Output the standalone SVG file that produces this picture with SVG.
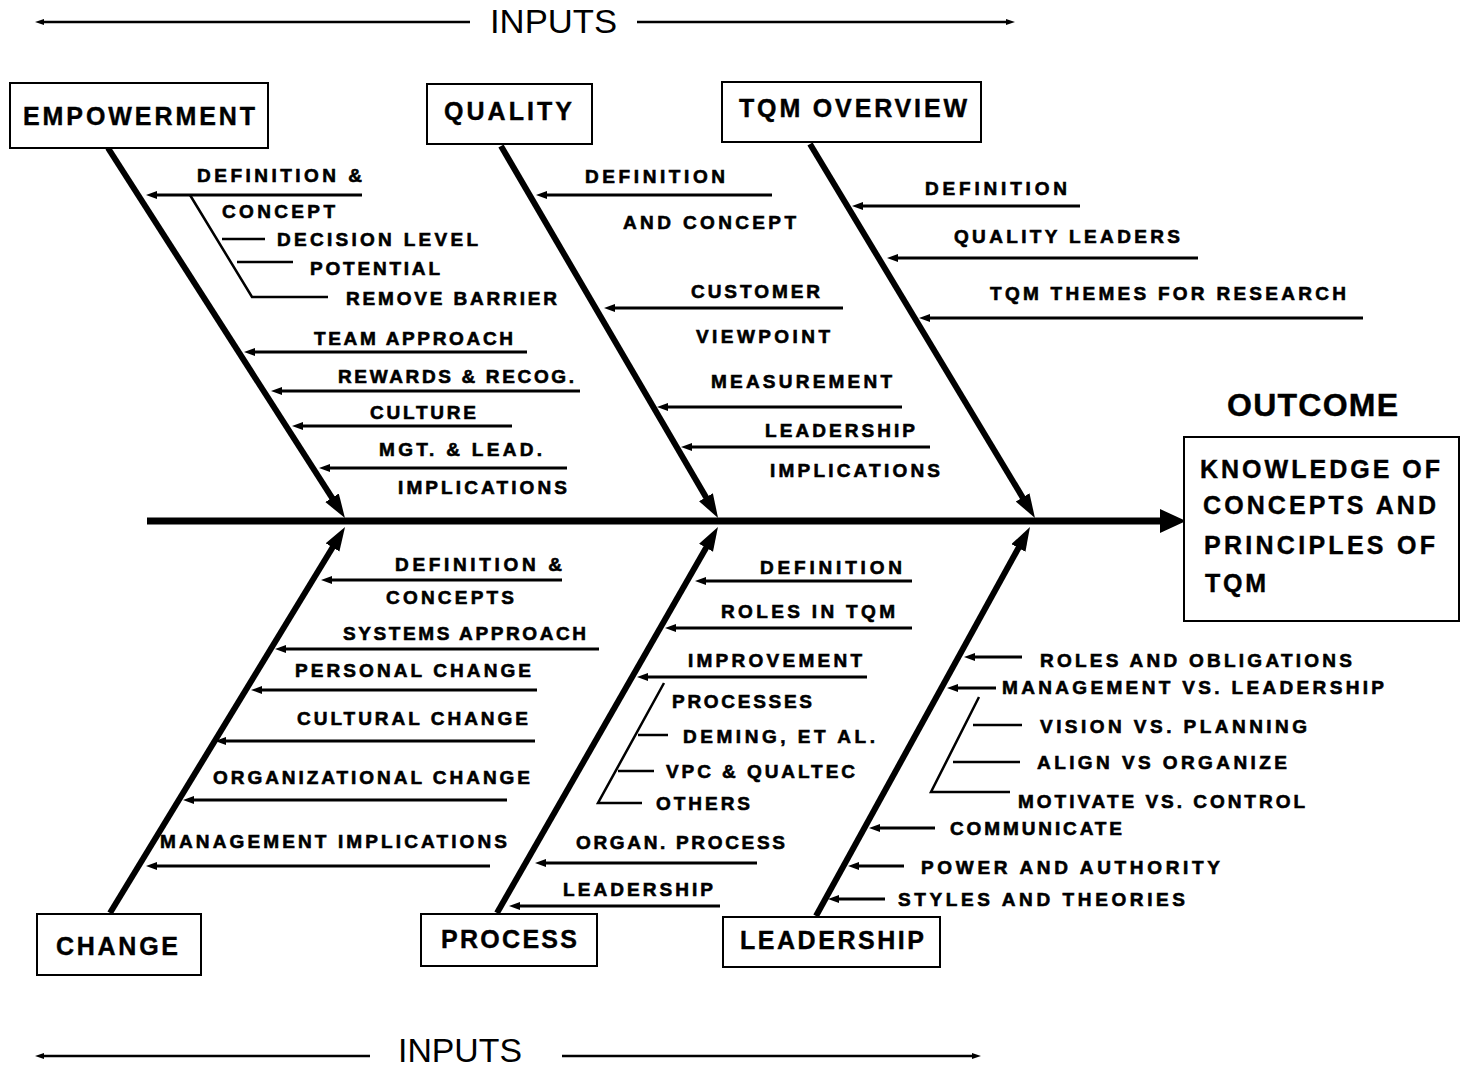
<svg xmlns="http://www.w3.org/2000/svg" width="1460" height="1069" viewBox="0 0 1460 1069">
  <style>
    .lbl { font-family: "Liberation Sans", Arial, sans-serif; font-weight: bold; font-size: 19px; fill: #000; stroke: #000; stroke-width: 0.6; }
    .box-t { font-family: "Liberation Sans", Arial, sans-serif; font-weight: bold; font-size: 25px; fill: #000; stroke: #000; stroke-width: 0.4; }
    .inp { font-family: "Liberation Sans", Arial, sans-serif; font-size: 33px; fill: #000; }
    .box { fill: #fff; stroke: #000; stroke-width: 2; }
    .rib { stroke: #000; stroke-width: 6; fill: none; }
    .sub { stroke: #000; stroke-width: 3; fill: none; marker-end: url(#small); }
    .twig { stroke: #000; stroke-width: 2.5; fill: none; }
    .inl { stroke: #000; stroke-width: 2.5; fill: none; }
  </style>
  <defs>
    <marker id="big" markerUnits="userSpaceOnUse" markerWidth="26" markerHeight="18" refX="12" refY="8" orient="auto">
      <path d="M0,0 L24,8 L0,16 z" fill="#000"/>
    </marker>
    <marker id="small" markerUnits="userSpaceOnUse" markerWidth="13" markerHeight="9" refX="4" refY="4" orient="auto">
      <path d="M0,0 L11,4 L0,8 z" fill="#000"/>
    </marker>
    <marker id="thin" markerUnits="userSpaceOnUse" markerWidth="10" markerHeight="8" refX="3" refY="3" orient="auto">
      <path d="M0,0 L9,3 L0,6 z" fill="#000"/>
    </marker>
  </defs>

  <rect width="1460" height="1069" fill="#fff"/>

  <!-- input banners -->
  <g id="inputs-top">
    <line class="inl" x1="470" y1="22" x2="41" y2="22" marker-end="url(#thin)"/>
    <line class="inl" x1="637" y1="22" x2="1009" y2="22" marker-end="url(#thin)"/>
    <text class="inp" x="490" y="33" textLength="127" lengthAdjust="spacingAndGlyphs">INPUTS</text>
  </g>
  <g id="inputs-bottom">
    <line class="inl" x1="370" y1="1056" x2="41" y2="1056" marker-end="url(#thin)"/>
    <line class="inl" x1="562" y1="1056" x2="975" y2="1056" marker-end="url(#thin)"/>
    <text class="inp" x="398" y="1062" textLength="124" lengthAdjust="spacingAndGlyphs">INPUTS</text>
  </g>

  <!-- spine, ribs and branch arrows -->
  <g id="connectors">
    <line x1="147" y1="521" x2="1162" y2="521" stroke="#000" stroke-width="7"/>
    <polygon points="1160,509 1186,521 1160,533" fill="#000"/>

    <line class="rib" x1="108" y1="148" x2="338.5" y2="507.9" marker-end="url(#big)"/>
    <line class="rib" x1="501" y1="146" x2="712" y2="507.6" marker-end="url(#big)"/>
    <line class="rib" x1="810" y1="144" x2="1028.8" y2="507.7" marker-end="url(#big)"/>
    <line class="rib" x1="110" y1="913" x2="338.8" y2="537.2" marker-end="url(#big)"/>
    <line class="rib" x1="497" y1="913" x2="712" y2="537.4" marker-end="url(#big)"/>
    <line class="rib" x1="816" y1="916" x2="1024.2" y2="537.5" marker-end="url(#big)"/>

    <!-- empowerment branches -->
    <line class="sub" x1="362" y1="195" x2="153" y2="195"/>
    <line class="sub" x1="527" y1="352" x2="251" y2="352"/>
    <line class="sub" x1="580" y1="391" x2="278" y2="391"/>
    <line class="sub" x1="512" y1="426" x2="299" y2="426"/>
    <line class="sub" x1="567" y1="468" x2="326" y2="468"/>
    <polyline class="twig" points="190,195 252,297 328,297"/>
    <line class="twig" x1="222" y1="239" x2="265" y2="239"/>
    <line class="twig" x1="237" y1="262" x2="293" y2="262"/>

    <!-- quality branches -->
    <line class="sub" x1="772" y1="195" x2="543" y2="195"/>
    <line class="sub" x1="843" y1="308" x2="611" y2="308"/>
    <line class="sub" x1="902" y1="407" x2="664" y2="407"/>
    <line class="sub" x1="930" y1="447" x2="688" y2="447"/>

    <!-- tqm overview branches -->
    <line class="sub" x1="1080" y1="206" x2="859" y2="206"/>
    <line class="sub" x1="1198" y1="258" x2="894" y2="258"/>
    <line class="sub" x1="1363" y1="318" x2="926" y2="318"/>

    <!-- change branches -->
    <line class="sub" x1="562" y1="580" x2="328" y2="580"/>
    <line class="sub" x1="599" y1="649" x2="282" y2="649"/>
    <line class="sub" x1="537" y1="690" x2="258" y2="690"/>
    <line class="sub" x1="535" y1="741" x2="222" y2="741"/>
    <line class="sub" x1="507" y1="800" x2="190" y2="800"/>
    <line class="sub" x1="490" y1="866" x2="153" y2="866"/>

    <!-- process branches -->
    <line class="sub" x1="912" y1="581" x2="702" y2="581"/>
    <line class="sub" x1="912" y1="628" x2="672" y2="628"/>
    <line class="sub" x1="867" y1="677" x2="644" y2="677"/>
    <line class="sub" x1="757" y1="863" x2="542" y2="863"/>
    <line class="sub" x1="720" y1="906" x2="516" y2="906"/>
    <polyline class="twig" points="664,683 598,803 642,803"/>
    <line class="twig" x1="638" y1="735" x2="668" y2="735"/>
    <line class="twig" x1="618" y1="771" x2="654" y2="771"/>

    <!-- leadership branches -->
    <line class="sub" x1="1022" y1="657" x2="971" y2="657"/>
    <line class="sub" x1="996" y1="688" x2="954" y2="688"/>
    <line class="sub" x1="935" y1="828" x2="876" y2="828"/>
    <line class="sub" x1="904" y1="866" x2="855" y2="866"/>
    <line class="sub" x1="885" y1="899" x2="835" y2="899"/>
    <polyline class="twig" points="979,697 931,792 1010,792"/>
    <line class="twig" x1="973" y1="725" x2="1022" y2="725"/>
    <line class="twig" x1="953" y1="762" x2="1020" y2="762"/>
  </g>

  <!-- category boxes -->
  <g id="empowerment">
    <rect class="box" x="10" y="83" width="258" height="65"/>
    <text class="box-t" x="23" y="125" textLength="232" lengthAdjust="spacing">EMPOWERMENT</text>
    <text class="lbl" x="197" y="182" textLength="165" lengthAdjust="spacing">DEFINITION &amp;</text>
    <text class="lbl" x="222" y="218" textLength="113" lengthAdjust="spacing">CONCEPT</text>
    <text class="lbl" x="277" y="246" textLength="201" lengthAdjust="spacing">DECISION LEVEL</text>
    <text class="lbl" x="310" y="275" textLength="130" lengthAdjust="spacing">POTENTIAL</text>
    <text class="lbl" x="346" y="305" textLength="211" lengthAdjust="spacing">REMOVE BARRIER</text>
    <text class="lbl" x="314" y="345" textLength="199" lengthAdjust="spacing">TEAM APPROACH</text>
    <text class="lbl" x="338" y="383" textLength="236" lengthAdjust="spacing">REWARDS &amp; RECOG.</text>
    <text class="lbl" x="370" y="419" textLength="106" lengthAdjust="spacing">CULTURE</text>
    <text class="lbl" x="379" y="456" textLength="163" lengthAdjust="spacing">MGT. &amp; LEAD.</text>
    <text class="lbl" x="398" y="494" textLength="169" lengthAdjust="spacing">IMPLICATIONS</text>
  </g>

  <g id="quality">
    <rect class="box" x="427" y="84" width="165" height="60"/>
    <text class="box-t" x="444" y="120" textLength="128" lengthAdjust="spacing">QUALITY</text>
    <text class="lbl" x="585" y="183" textLength="140" lengthAdjust="spacing">DEFINITION</text>
    <text class="lbl" x="623" y="229" textLength="173" lengthAdjust="spacing">AND CONCEPT</text>
    <text class="lbl" x="691" y="298" textLength="129" lengthAdjust="spacing">CUSTOMER</text>
    <text class="lbl" x="696" y="343" textLength="134" lengthAdjust="spacing">VIEWPOINT</text>
    <text class="lbl" x="711" y="388" textLength="181" lengthAdjust="spacing">MEASUREMENT</text>
    <text class="lbl" x="765" y="437" textLength="150" lengthAdjust="spacing">LEADERSHIP</text>
    <text class="lbl" x="770" y="477" textLength="170" lengthAdjust="spacing">IMPLICATIONS</text>
  </g>

  <g id="tqm-overview">
    <rect class="box" x="722" y="82" width="259" height="60"/>
    <text class="box-t" x="739" y="117" textLength="228" lengthAdjust="spacing">TQM OVERVIEW</text>
    <text class="lbl" x="925" y="195" textLength="142" lengthAdjust="spacing">DEFINITION</text>
    <text class="lbl" x="954" y="243" textLength="226" lengthAdjust="spacing">QUALITY LEADERS</text>
    <text class="lbl" x="990" y="300" textLength="356" lengthAdjust="spacing">TQM THEMES FOR RESEARCH</text>
  </g>

  <g id="change">
    <rect class="box" x="37" y="914" width="164" height="61"/>
    <text class="box-t" x="56" y="955" textLength="122" lengthAdjust="spacing">CHANGE</text>
    <text class="lbl" x="395" y="571" textLength="167" lengthAdjust="spacing">DEFINITION &amp;</text>
    <text class="lbl" x="386" y="604" textLength="128" lengthAdjust="spacing">CONCEPTS</text>
    <text class="lbl" x="343" y="640" textLength="243" lengthAdjust="spacing">SYSTEMS APPROACH</text>
    <text class="lbl" x="295" y="677" textLength="236" lengthAdjust="spacing">PERSONAL CHANGE</text>
    <text class="lbl" x="297" y="725" textLength="231" lengthAdjust="spacing">CULTURAL CHANGE</text>
    <text class="lbl" x="213" y="784" textLength="317" lengthAdjust="spacing">ORGANIZATIONAL CHANGE</text>
    <text class="lbl" x="160" y="848" textLength="347" lengthAdjust="spacing">MANAGEMENT IMPLICATIONS</text>
  </g>

  <g id="process">
    <rect class="box" x="421" y="914" width="176" height="52"/>
    <text class="box-t" x="441" y="948" textLength="136" lengthAdjust="spacing">PROCESS</text>
    <text class="lbl" x="760" y="574" textLength="142" lengthAdjust="spacing">DEFINITION</text>
    <text class="lbl" x="721" y="618" textLength="174" lengthAdjust="spacing">ROLES IN TQM</text>
    <text class="lbl" x="688" y="667" textLength="174" lengthAdjust="spacing">IMPROVEMENT</text>
    <text class="lbl" x="672" y="708" textLength="140" lengthAdjust="spacing">PROCESSES</text>
    <text class="lbl" x="683" y="743" textLength="192" lengthAdjust="spacing">DEMING, ET AL.</text>
    <text class="lbl" x="666" y="778" textLength="189" lengthAdjust="spacing">VPC &amp; QUALTEC</text>
    <text class="lbl" x="656" y="810" textLength="94" lengthAdjust="spacing">OTHERS</text>
    <text class="lbl" x="576" y="849" textLength="209" lengthAdjust="spacing">ORGAN. PROCESS</text>
    <text class="lbl" x="563" y="896" textLength="150" lengthAdjust="spacing">LEADERSHIP</text>
  </g>

  <g id="leadership">
    <rect class="box" x="723" y="917" width="217" height="50"/>
    <text class="box-t" x="740" y="949" textLength="184" lengthAdjust="spacing">LEADERSHIP</text>
    <text class="lbl" x="1040" y="667" textLength="312" lengthAdjust="spacing">ROLES AND OBLIGATIONS</text>
    <text class="lbl" x="1002" y="694" textLength="382" lengthAdjust="spacing">MANAGEMENT VS. LEADERSHIP</text>
    <text class="lbl" x="1040" y="733" textLength="267" lengthAdjust="spacing">VISION VS. PLANNING</text>
    <text class="lbl" x="1037" y="769" textLength="250" lengthAdjust="spacing">ALIGN VS ORGANIZE</text>
    <text class="lbl" x="1018" y="808" textLength="287" lengthAdjust="spacing">MOTIVATE VS. CONTROL</text>
    <text class="lbl" x="950" y="835" textLength="172" lengthAdjust="spacing">COMMUNICATE</text>
    <text class="lbl" x="921" y="874" textLength="299" lengthAdjust="spacing">POWER AND AUTHORITY</text>
    <text class="lbl" x="898" y="906" textLength="287" lengthAdjust="spacing">STYLES AND THEORIES</text>
  </g>

  <!-- outcome -->
  <g id="outcome">
    <text class="box-t" x="1227" y="416" textLength="171" lengthAdjust="spacing" style="font-size:32px">OUTCOME</text>
    <rect class="box" x="1184" y="437" width="275" height="184"/>
    <text class="box-t" x="1200" y="478" textLength="240" lengthAdjust="spacing">KNOWLEDGE OF</text>
    <text class="box-t" x="1203" y="514" textLength="233" lengthAdjust="spacing">CONCEPTS AND</text>
    <text class="box-t" x="1204" y="554" textLength="231" lengthAdjust="spacing">PRINCIPLES OF</text>
    <text class="box-t" x="1205" y="592" textLength="61" lengthAdjust="spacing">TQM</text>
  </g>
</svg>
